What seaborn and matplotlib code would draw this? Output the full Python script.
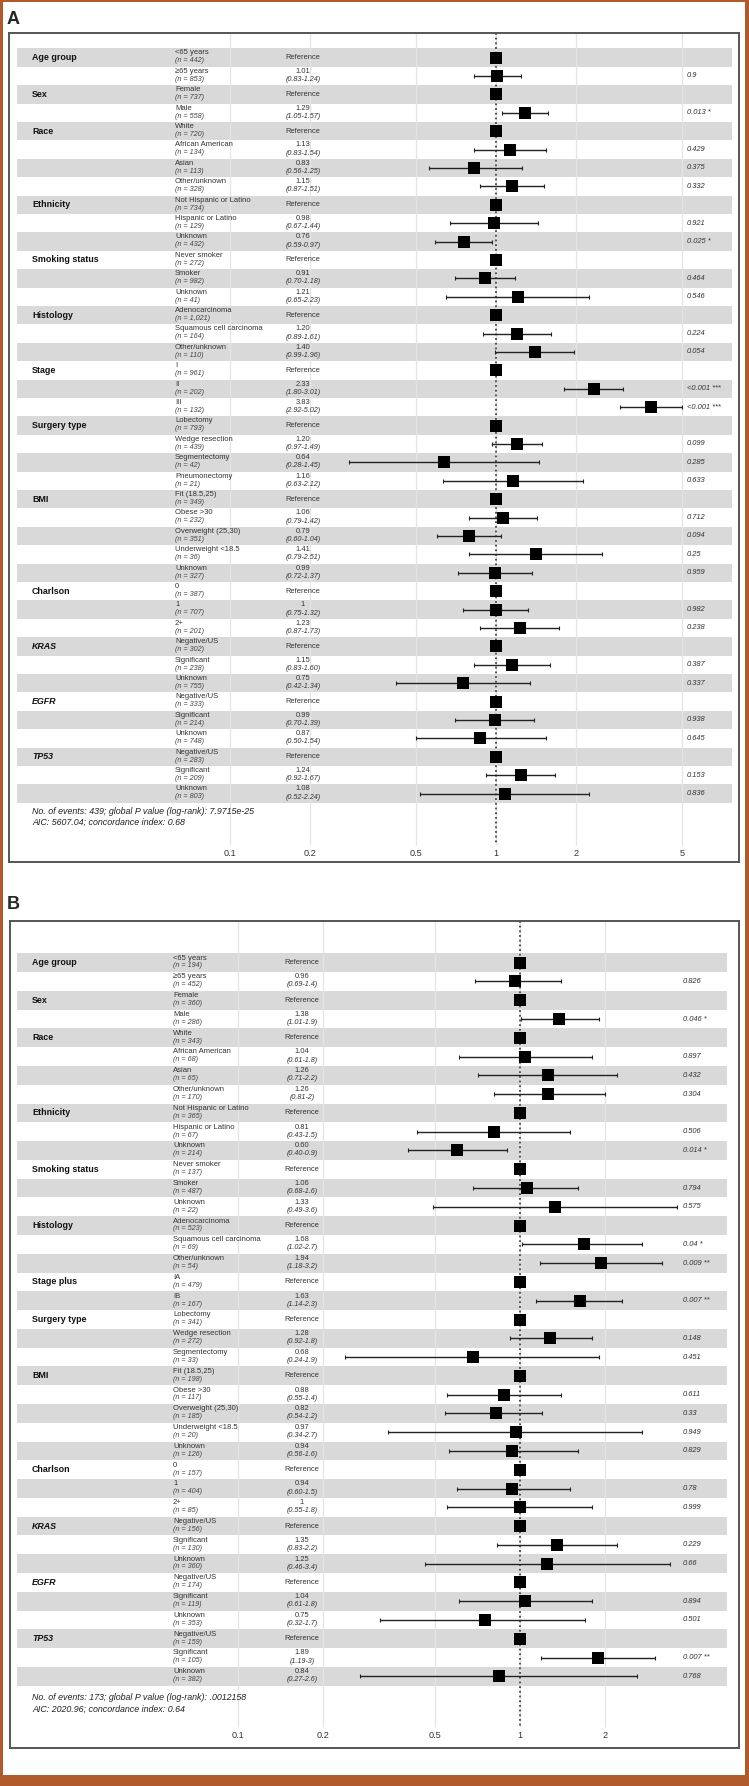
import matplotlib
matplotlib.use('Agg')
import matplotlib.pyplot as plt
import matplotlib.transforms as mtransforms
from matplotlib.patches import Rectangle
from matplotlib.ticker import NullLocator
import seaborn as sns
import numpy as np
import pandas as pd

sns.set_theme(style="white")
plt.rcParams['font.family'] = ['Liberation Sans', 'DejaVu Sans']

# Panel A data (overall cohort)
a_groups = ['Age group', 'Sex', 'Race', 'Ethnicity', 'Smoking status', 'Histology', 'Stage',
            'Surgery type', 'BMI', 'Charlson', 'KRAS', 'EGFR', 'TP53']
a_sizes = [2, 2, 4, 3, 3, 3, 3, 4, 5, 3, 3, 3, 3]
a_levels = ['<65 years', '\u226565 years', 'Female', 'Male',
            'White', 'African American', 'Asian', 'Other/unknown',
            'Not Hispanic or Latino', 'Hispanic or Latino', 'Unknown',
            'Never smoker', 'Smoker', 'Unknown',
            'Adenocarcinoma', 'Squamous cell carcinoma', 'Other/unknown',
            'I', 'II', 'III',
            'Lobectomy', 'Wedge resection', 'Segmentectomy', 'Pneumonectomy',
            'Fit (18.5,25)', 'Obese >30', 'Overweight (25,30)', 'Underweight <18.5', 'Unknown',
            '0', '1', '2+',
            'Negative/US', 'Significant', 'Unknown',
            'Negative/US', 'Significant', 'Unknown',
            'Negative/US', 'Significant', 'Unknown']
a_n = ['442', '853', '737', '558', '720', '134', '113', '328', '734', '129', '432',
       '272', '982', '41', '1,021', '164', '110', '961', '202', '132',
       '793', '439', '42', '21', '349', '232', '351', '36', '327',
       '387', '707', '201', '302', '238', '755', '333', '214', '748', '283', '209', '803']
a_hr = ['Reference', '1.01', 'Reference', '1.29', 'Reference', '1.13', '0.83', '1.15',
        'Reference', '0.98', '0.76', 'Reference', '0.91', '1.21', 'Reference', '1.20', '1.40',
        'Reference', '2.33', '3.83', 'Reference', '1.20', '0.64', '1.16',
        'Reference', '1.06', '0.79', '1.41', '0.99', 'Reference', '1', '1.23',
        'Reference', '1.15', '0.75', 'Reference', '0.99', '0.87', 'Reference', '1.24', '1.08']
a_ci = ['', '0.83-1.24', '', '1.05-1.57', '', '0.83-1.54', '0.56-1.25', '0.87-1.51',
        '', '0.67-1.44', '0.59-0.97', '', '0.70-1.18', '0.65-2.23', '', '0.89-1.61', '0.99-1.96',
        '', '1.80-3.01', '2.92-5.02', '', '0.97-1.49', '0.28-1.45', '0.63-2.12',
        '', '0.79-1.42', '0.60-1.04', '0.79-2.51', '0.72-1.37', '', '0.75-1.32', '0.87-1.73',
        '', '0.83-1.60', '0.42-1.34', '', '0.70-1.39', '0.50-1.54', '', '0.92-1.67', '0.52-2.24']
a_p = ['', '0.9', '', '0.013 *', '', '0.429', '0.375', '0.332', '', '0.921', '0.025 *',
       '', '0.464', '0.546', '', '0.224', '0.054', '', '<0.001 ***', '<0.001 ***',
       '', '0.099', '0.285', '0.633', '', '0.712', '0.094', '0.25', '0.959',
       '', '0.982', '0.238', '', '0.387', '0.337', '', '0.938', '0.645', '', '0.153', '0.836']
a_notes = ['No. of events: 439; global P value (log-rank): 7.9715e-25',
           'AIC: 5607.04; concordance index: 0.68']
a_ticks = [0.1, 0.2, 0.5, 1, 2, 5]

# Panel B data (stage I subgroup)
b_groups = ['Age group', 'Sex', 'Race', 'Ethnicity', 'Smoking status', 'Histology', 'Stage plus',
            'Surgery type', 'BMI', 'Charlson', 'KRAS', 'EGFR', 'TP53']
b_sizes = [2, 2, 4, 3, 3, 3, 2, 3, 5, 3, 3, 3, 3]
b_levels = ['<65 years', '\u226565 years', 'Female', 'Male',
            'White', 'African American', 'Asian', 'Other/unknown',
            'Not Hispanic or Latino', 'Hispanic or Latino', 'Unknown',
            'Never smoker', 'Smoker', 'Unknown',
            'Adenocarcinoma', 'Squamous cell carcinoma', 'Other/unknown',
            'IA', 'IB',
            'Lobectomy', 'Wedge resection', 'Segmentectomy',
            'Fit (18.5,25)', 'Obese >30', 'Overweight (25,30)', 'Underweight <18.5', 'Unknown',
            '0', '1', '2+',
            'Negative/US', 'Significant', 'Unknown',
            'Negative/US', 'Significant', 'Unknown',
            'Negative/US', 'Significant', 'Unknown']
b_n = ['194', '452', '360', '286', '343', '68', '65', '170', '365', '67', '214',
       '137', '487', '22', '523', '69', '54', '479', '167', '341', '272', '33',
       '198', '117', '185', '20', '126', '157', '404', '85',
       '156', '130', '360', '174', '119', '353', '159', '105', '382']
b_hr = ['Reference', '0.96', 'Reference', '1.38', 'Reference', '1.04', '1.26', '1.26',
        'Reference', '0.81', '0.60', 'Reference', '1.06', '1.33', 'Reference', '1.68', '1.94',
        'Reference', '1.63', 'Reference', '1.28', '0.68',
        'Reference', '0.88', '0.82', '0.97', '0.94', 'Reference', '0.94', '1',
        'Reference', '1.35', '1.25', 'Reference', '1.04', '0.75', 'Reference', '1.89', '0.84']
b_ci = ['', '0.69-1.4', '', '1.01-1.9', '', '0.61-1.8', '0.71-2.2', '0.81-2',
        '', '0.43-1.5', '0.40-0.9', '', '0.68-1.6', '0.49-3.6', '', '1.02-2.7', '1.18-3.2',
        '', '1.14-2.3', '', '0.92-1.8', '0.24-1.9',
        '', '0.55-1.4', '0.54-1.2', '0.34-2.7', '0.56-1.6', '', '0.60-1.5', '0.55-1.8',
        '', '0.83-2.2', '0.46-3.4', '', '0.61-1.8', '0.32-1.7', '', '1.19-3', '0.27-2.6']
b_p = ['', '0.826', '', '0.046 *', '', '0.897', '0.432', '0.304', '', '0.506', '0.014 *',
       '', '0.794', '0.575', '', '0.04 *', '0.009 **', '', '0.007 **', '', '0.148', '0.451',
       '', '0.611', '0.33', '0.949', '0.829', '', '0.78', '0.999',
       '', '0.229', '0.66', '', '0.894', '0.501', '', '0.007 **', '0.768']
b_notes = ['No. of events: 173; global P value (log-rank): .0012158',
           'AIC: 2020.96; concordance index: 0.64']
b_ticks = [0.1, 0.2, 0.5, 1, 2]

W, H = 749, 1786
ITALIC_GROUPS = {'KRAS', 'EGFR', 'TP53'}


def build_table(groups, sizes, levels, ns, hrs, cis, pvals):
    grp = []
    first = []
    for g, k in zip(groups, sizes):
        grp += [g] * k
        first += [True] + [False] * (k - 1)
    df = pd.DataFrame({'group': grp, 'first': first, 'level': levels, 'n': ns,
                       'hr_txt': hrs, 'ci_txt': cis, 'p': pvals})
    df['ref'] = df['hr_txt'] == 'Reference'
    df['hr'] = [1.0 if r else float(h) for r, h in zip(df['ref'], df['hr_txt'])]
    df['lo'] = [np.nan if c == '' else float(c.split('-')[0]) for c in df['ci_txt']]
    df['hi'] = [np.nan if c == '' else float(c.split('-')[1]) for c in df['ci_txt']]
    return df


def draw_panel(df, notes, ticks, L):
    # axes box in pixels
    ax = fig.add_axes([L['left'] / W, 1 - L['bottom'] / H,
                       (L['right'] - L['left']) / W, (L['bottom'] - L['top']) / H])
    ax.set_xscale('log')
    x0 = 10 ** ((L['left'] - L['one']) / L['dec'])
    x1 = 10 ** ((L['right'] - L['one']) / L['dec'])
    fx = lambda px: (px - L['left']) / (L['right'] - L['left'])
    trans = mtransforms.blended_transform_factory(ax.transAxes, ax.transData)

    df = df.copy()
    df['y'] = L['row0'] + (np.arange(len(df)) + 0.5) * L['rowh']

    # alternating row bands
    for i, yc in enumerate(df['y']):
        if i % 2 == 0:
            ax.axhspan(yc - L['rowh'] / 2, yc + L['rowh'] / 2, xmin=fx(17), xmax=fx(L['band_r']),
                       color='#d9d9d9', lw=0, zorder=0)

    # grid lines and reference line
    ax.vlines(ticks, L['top'], L['grid_end'], color='#e4e4e4', lw=0.9, zorder=1)
    ax.vlines([1], L['top'], L['grid_end'], color='#444444', lw=1.3,
              linestyles=(0, (1, 1.6)), zorder=2)

    est = df[~df['ref']]
    ax.errorbar(est['hr'], est['y'], xerr=[est['hr'] - est['lo'], est['hi'] - est['hr']],
                fmt='none', ecolor='#222222', elinewidth=1.0, capsize=1.3, capthick=0.8, zorder=3)
    sns.scatterplot(data=df, x='hr', y='y', marker='s', s=L['sq'], color='black',
                    linewidth=0, ax=ax, zorder=4, legend=False)

    # text columns
    for _, r in df.iterrows():
        if r['first']:
            style = 'italic' if r['group'] in ITALIC_GROUPS else 'normal'
            ax.text(fx(32), r['y'], r['group'], transform=trans, fontsize=6.4, fontweight='bold',
                    fontstyle=style, va='center', ha='left', color='#111111')
        ax.text(fx(L['lev_x']), r['y'] - 4.6, r['level'], transform=trans, fontsize=5.5,
                va='center', ha='left', color='#333333')
        ax.text(fx(L['lev_x']), r['y'] + 3.3, f"(n = {r['n']})", transform=trans, fontsize=5.2,
                fontstyle='italic', va='center', ha='left', color='#444444')
        if r['ref']:
            ax.text(fx(L['hr_x']), r['y'], 'Reference', transform=trans, fontsize=5.4,
                    va='center', ha='center', color='#333333')
        else:
            ax.text(fx(L['hr_x']), r['y'] - 4.6, r['hr_txt'], transform=trans, fontsize=5.4,
                    va='center', ha='center', color='#333333')
            ax.text(fx(L['hr_x']), r['y'] + 3.5, f"({r['ci_txt']})", transform=trans, fontsize=5.2,
                    fontstyle='italic', va='center', ha='center', color='#333333')
            ax.text(fx(L['p_x']), r['y'], r['p'], transform=trans, fontsize=5.4,
                    fontstyle='italic', va='center', ha='left', color='#333333')

    for k, line in enumerate(notes):
        ax.text(fx(32), L['note_y'] + k * 11, line, transform=trans, fontsize=6.4,
                fontstyle='italic', va='center', ha='left', color='#222222')

    for t in ticks:
        ax.text(t, L['tick_y'], f'{t:g}', fontsize=6.6, va='center', ha='center', color='#333333')

    ax.set_xlim(x0, x1)
    ax.set_ylim(L['bottom'], L['top'])
    ax.set_xticks([])
    ax.set_yticks([])
    ax.xaxis.set_minor_locator(NullLocator())
    ax.set_xlabel('')
    ax.set_ylabel('')
    for s in ax.spines.values():
        s.set_color('#555555')
        s.set_linewidth(1.4)
    return ax


fig = plt.figure(figsize=(W / 100, H / 100), dpi=100)

layout_a = dict(left=9, right=739, top=33, bottom=862, one=496, dec=266, row0=48.3, rowh=18.4,
                band_r=732, grid_end=845, lev_x=175, hr_x=303, p_x=687, note_y=811, tick_y=853, sq=74)
layout_b = dict(left=10, right=739, top=921, bottom=1748, one=520, dec=282, row0=953.3, rowh=18.78,
                band_r=727, grid_end=1727, lev_x=173, hr_x=302, p_x=683, note_y=1698, tick_y=1735, sq=66)

df_a = build_table(a_groups, a_sizes, a_levels, a_n, a_hr, a_ci, a_p)
df_b = build_table(b_groups, b_sizes, b_levels, b_n, b_hr, b_ci, b_p)
draw_panel(df_a, a_notes, a_ticks, layout_a)
draw_panel(df_b, b_notes, b_ticks, layout_b)

fig.text(7 / W, 1 - 20 / H, 'A', fontsize=13, fontweight='bold', va='center', ha='left')
fig.text(7 / W, 1 - 905 / H, 'B', fontsize=13, fontweight='bold', va='center', ha='left')

# orange page frame
frame = '#b0592a'
for (x, y, w, h) in [(0, 0, 3, H), (745, 0, 4, H), (0, 0, W, 2), (0, 1775, W, 11)]:
    fig.patches.append(Rectangle((x / W, 1 - (y + h) / H), w / W, h / H, transform=fig.transFigure,
                                 facecolor=frame, edgecolor='none', zorder=10))

fig.savefig('out.png', dpi=100)
